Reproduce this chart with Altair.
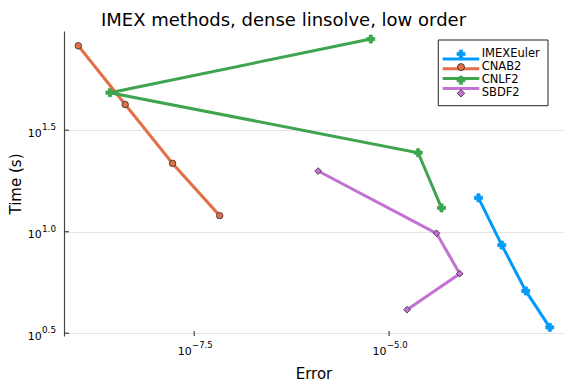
import altair as alt
import pandas as pd

# ---- data ----
series = ["IMEXEuler", "CNAB2", "CNLF2", "SBDF2"]
colors = ["#009AFA", "#E36F47", "#3EA44E", "#C371D2"]
shapes = ["cross", "circle", "cross", "diamond"]
strokes = ["#009AFA", "#2b2b2b", "#3EA44E", "#2b2b2b"]

imexeuler_err = [1.40e-4, 2.79e-4, 5.66e-4, 1.15e-3]
imexeuler_time = [14.69, 8.59, 5.11, 3.38]
cnab2_err = [1.03e-9, 4.12e-9, 1.67e-8, 6.70e-8]
cnab2_time = [82.4, 42.3, 21.7, 12.0]
cnlf2_err = [5.82e-6, 2.62e-9, 2.36e-5, 4.70e-5]
cnlf2_time = [88.9, 48.4, 24.5, 13.1]
sbdf2_err = [1.23e-6, 4.06e-5, 8.05e-5, 1.70e-5]
sbdf2_time = [19.9, 9.82, 6.21, 4.13]

x_ticks = [-7.5, -5.0]
x_tick_exps = ["\u22127.5", "\u22125.0"]
y_ticks = [0.5, 1.0, 1.5]
y_tick_exps = ["0.5", "1.0", "1.5"]

title_text = "IMEX methods, dense linsolve, low order"
x_title = "Error"
y_title = "Time (s)"

# ---- tables ----
rows = []
for name, errs, times in [
    ("IMEXEuler", imexeuler_err, imexeuler_time),
    ("CNAB2", cnab2_err, cnab2_time),
    ("CNLF2", cnlf2_err, cnlf2_time),
    ("SBDF2", sbdf2_err, sbdf2_time),
]:
    for i, (e, t) in enumerate(zip(errs, times)):
        rows.append({"series": name, "idx": i, "err": e, "time": t})
df = pd.DataFrame(rows)
legend_df = pd.DataFrame({"series": series})
xt_df = pd.DataFrame({"t": x_ticks, "e": x_tick_exps})
yt_df = pd.DataFrame({"t": y_ticks, "e": y_tick_exps})

FONT = "DejaVu Sans"
W, H = 500, 305
AX = "#444444"

xscale = alt.Scale(domain=[-9.1705, -2.7564], nice=False, zero=False)
yscale = alt.Scale(domain=[0.4862, 1.9887], nice=False, zero=False)
color_scale = alt.Scale(domain=series, range=colors)
shape_scale = alt.Scale(domain=series, range=shapes)
stroke_scale = alt.Scale(domain=series, range=strokes)

base = alt.Chart(df).transform_calculate(
    lx="log(datum.err)/LN10", ly="log(datum.time)/LN10"
)

X_axis = alt.X("lx:Q", scale=xscale, axis=alt.Axis(
    values=x_ticks, labels=False, ticks=False, grid=True, domain=True,
    domainColor=AX, domainWidth=1.2, gridColor="#e6e6e6", gridWidth=1,
    title=None))
Y_axis = alt.Y("ly:Q", scale=yscale, axis=alt.Axis(
    values=y_ticks, labels=False, ticks=False, grid=True, domain=True,
    domainColor=AX, domainWidth=1.2, gridColor="#e6e6e6", gridWidth=1,
    title=y_title, titleFont=FONT, titleFontSize=15, titleFontWeight="normal",
    titleColor="black", titlePadding=41))
Xn = alt.X("lx:Q", scale=xscale, axis=None)
Yn = alt.Y("ly:Q", scale=yscale, axis=None)

lines = base.mark_line(strokeWidth=3).encode(
    x=X_axis, y=Y_axis,
    color=alt.Color("series:N", scale=color_scale, legend=None),
    order="idx:Q",
)

def point_layer(chart, sel, size, x, y):
    return chart.transform_filter(
        alt.FieldOneOfPredicate(field="series", oneOf=sel)
    ).mark_point(filled=True, opacity=1, strokeWidth=0.8, size=size).encode(
        x=x, y=y,
        shape=alt.Shape("series:N", scale=shape_scale, legend=None),
        fill=alt.Fill("series:N", scale=color_scale, legend=None),
        stroke=alt.Stroke("series:N", scale=stroke_scale, legend=None),
    )

pts_cross = point_layer(base, ["IMEXEuler", "CNLF2"], 64, Xn, Yn)
pts_circ = point_layer(base, ["CNAB2"], 42, Xn, Yn)
pts_diam = point_layer(base, ["SBDF2"], 45, Xn, Yn)

# ---- inward ticks and superscript tick labels ----
xt = alt.Chart(xt_df)
yt = alt.Chart(yt_df)
XT = alt.X("t:Q", scale=xscale, axis=None)
YT = alt.Y("t:Q", scale=yscale, axis=None)

xticks = xt.mark_rule(color=AX, strokeWidth=1.2).encode(x=XT, y=alt.value(H), y2=alt.value(H - 5))
yticks = yt.mark_rule(color=AX, strokeWidth=1.2).encode(y=YT, x=alt.value(0), x2=alt.value(5))

xlab_base = xt.mark_text(text="10", align="right", baseline="alphabetic", font=FONT,
                         fontSize=11, dx=-2.5, color="black").encode(x=XT, y=alt.value(H + 19))
xlab_exp = xt.mark_text(align="left", baseline="alphabetic", font=FONT,
                        fontSize=8.5, dx=-2.2, color="black").encode(x=XT, y=alt.value(H + 12.3), text="e:N")
ylab_base = yt.mark_text(text="10", align="right", baseline="alphabetic", font=FONT,
                         fontSize=11, dy=6.7, color="black").encode(y=YT, x=alt.value(-22.3))
ylab_exp = yt.mark_text(align="right", baseline="alphabetic", font=FONT,
                        fontSize=8.8, dy=0, color="black").encode(y=YT, x=alt.value(-8), text="e:N")

# ---- titles ----
title = alt.Chart(pd.DataFrame({"t": [title_text]})).mark_text(
    align="center", baseline="alphabetic", font=FONT, fontSize=18, color="black"
).encode(x=alt.value(219.5), y=alt.value(-5.5), text="t:N")
xtitle = alt.Chart(pd.DataFrame({"t": [x_title]})).mark_text(
    align="center", baseline="alphabetic", font=FONT, fontSize=15, color="black"
).encode(x=alt.value(W / 2), y=alt.value(H + 43), text="t:N")

# ---- legend ----
LY = alt.Y("series:N", scale=alt.Scale(domain=series, range=[23, 62.3], padding=0), axis=None)
lg = alt.Chart(legend_df)
leg_box = alt.Chart(pd.DataFrame({"a": [0]})).mark_rect(
    fill="white", stroke="#222222", strokeWidth=1
).encode(x=alt.value(374.3), x2=alt.value(484), y=alt.value(9), y2=alt.value(74.7))
leg_lines = lg.mark_rule(strokeWidth=3).encode(
    x=alt.value(378.7), x2=alt.value(415.3), y=LY,
    color=alt.Color("series:N", scale=color_scale, legend=None))
leg_cross = point_layer(lg, ["IMEXEuler", "CNLF2"], 64, alt.value(397), LY)
leg_circ = point_layer(lg, ["CNAB2"], 50, alt.value(397), LY)
leg_diam = point_layer(lg, ["SBDF2"], 55, alt.value(397), LY)
leg_text = lg.mark_text(align="left", baseline="middle", font=FONT, fontSize=11.5,
                        color="black").encode(x=alt.value(417.7), y=LY, text="series:N")

chart = alt.layer(
    lines, pts_cross, pts_circ, pts_diam,
    xticks, yticks, xlab_base, xlab_exp, ylab_base, ylab_exp,
    title, xtitle,
    leg_box, leg_lines, leg_cross, leg_circ, leg_diam, leg_text,
).resolve_scale(y="independent").properties(
    width=W, height=H,
    autosize=alt.AutoSizeParams(type="none"),
    padding={"left": 56, "top": 23, "right": 4, "bottom": 46},
    background="white",
).configure_view(stroke=None)

chart.save("out.html", embed_options={"renderer": "svg", "actions": False})
